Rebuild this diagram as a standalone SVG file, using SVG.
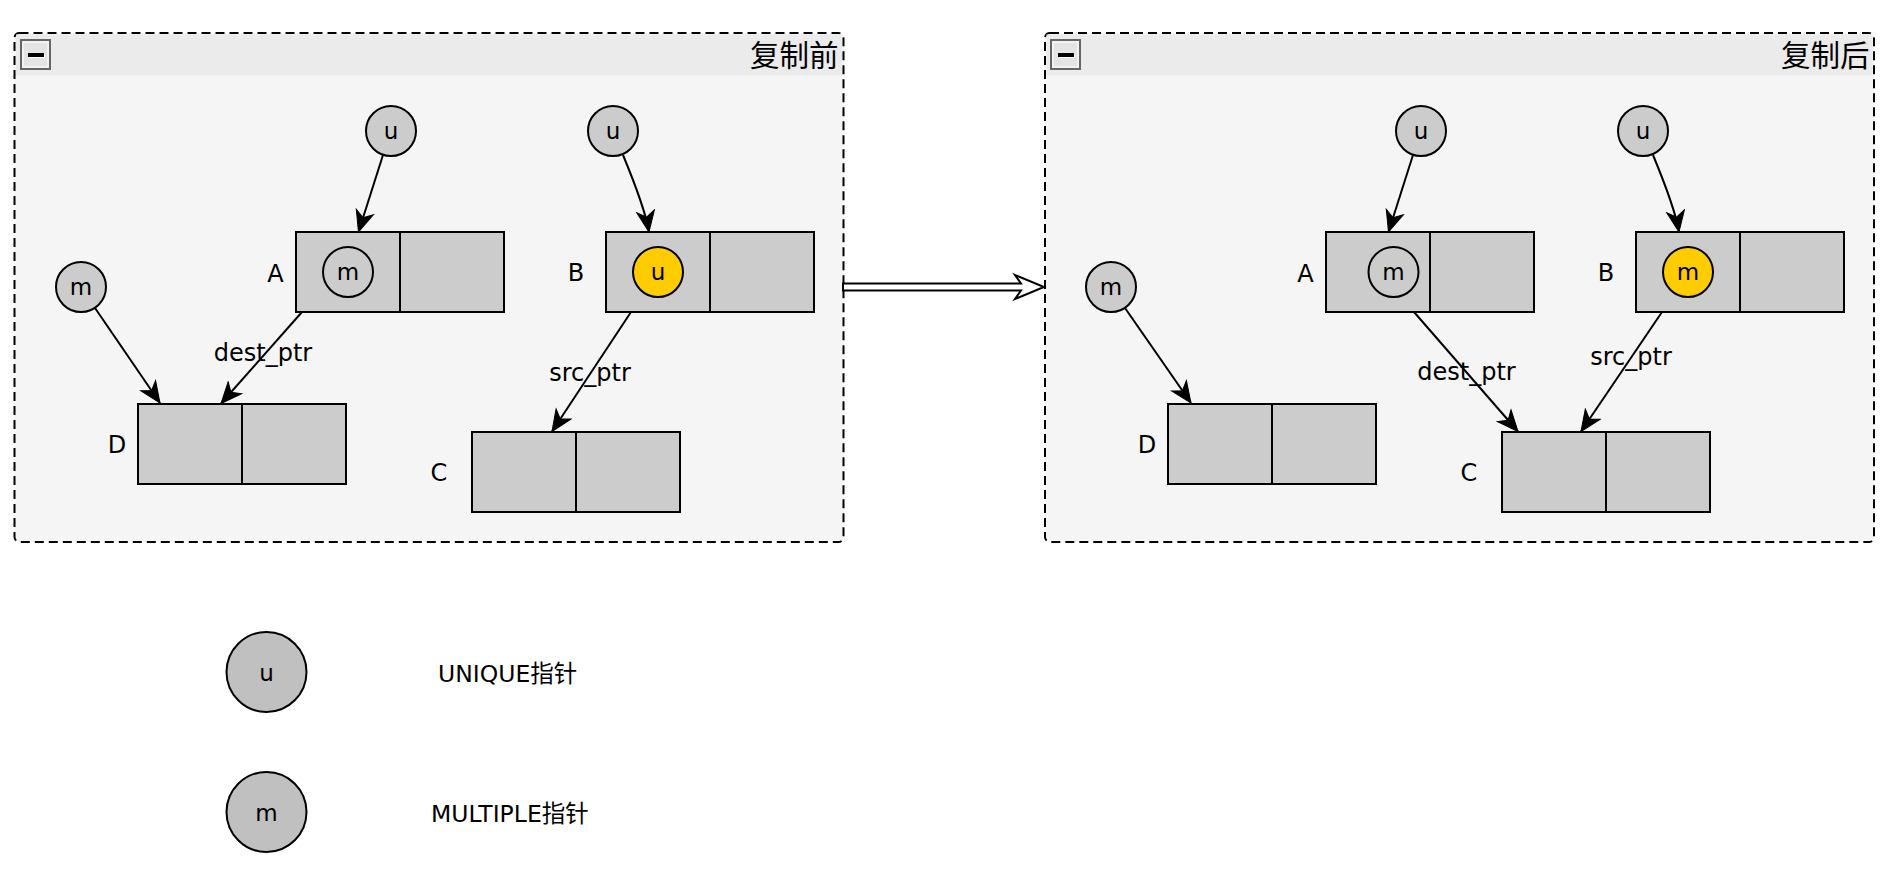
<svg xmlns="http://www.w3.org/2000/svg" width="1892" height="888" viewBox="0 0 1892 888">
<style>
.cont{fill:#F5F5F5;stroke:#000;stroke-width:2;stroke-dasharray:9 5}
.hdr{fill:#EBEBEB}
.cell{fill:#CCCCCC;stroke:#000;stroke-width:2}
.ptr{fill:#CCCCCC;stroke:#000;stroke-width:2}
.ptry{fill:#FFCC00;stroke:#000;stroke-width:2}
.leg{fill:#C0C0C0;stroke:#000;stroke-width:2}
.t{font-family:"DejaVu Sans","Noto Sans CJK SC",sans-serif;fill:#000}
.c{font-size:23px;text-anchor:middle}
.lbl{font-size:24px;text-anchor:middle}
.lg{font-size:23.5px}
.ttl{font-family:"Noto Sans CJK SC",sans-serif;font-size:29.5px;text-anchor:end;fill:#000}
.edge{fill:none;stroke:#000;stroke-width:2}
</style>
<defs>
<marker id="arr" markerUnits="userSpaceOnUse" markerWidth="24" markerHeight="22" viewBox="-22 -10 24 20" refX="0" refY="0" orient="auto">
<path d="M0,0 L-21,-9 L-15,0 L-21,9 Z" fill="#000" stroke="#000" stroke-width="1"/>
</marker>
<g id="minus">
<rect x="0" y="0" width="29" height="29" fill="#E4E4E4" stroke="#666" stroke-width="2"/>
<rect x="2" y="2" width="25" height="25" fill="none" stroke="#fff" stroke-width="1"/>
<rect x="8" y="14" width="16" height="4" fill="#fff"/>
<rect x="7" y="13" width="16" height="4" fill="#000"/>
</g>
</defs>

<g id="container-before">
<rect class="cont" x="14.5" y="33" width="829" height="509" rx="5"/>
<path class="hdr" d="M16,34.5 H842 V75.5 H16 Z"/>
<use href="#minus" x="21" y="40"/>
<text class="ttl" x="838.5" y="66">复制前</text>
</g>

<g id="container-after">
<rect class="cont" x="1045" y="33" width="829" height="509" rx="5"/>
<path class="hdr" d="M1046.5,34.5 H1872.5 V75.5 H1046.5 Z"/>
<use href="#minus" x="1051" y="40"/>
<text class="ttl" x="1869.5" y="66">复制后</text>
</g>

<g id="transition-arrow">
<path d="M843,283.5 L1021,283.5 L1015,275 L1044,287 L1015,299 L1021,290.5 L843,290.5 Z" fill="#fff" stroke="#000" stroke-width="2" stroke-linejoin="miter"/>
</g>

<!-- before panel nodes -->
<g id="b-uA"><circle class="ptr" cx="391" cy="131" r="25"/><text class="t c" x="391" y="139">u</text></g>
<g id="b-uB"><circle class="ptr" cx="613" cy="131" r="25"/><text class="t c" x="613" y="139">u</text></g>
<g id="b-mD"><circle class="ptr" cx="81" cy="287" r="25"/><text class="t c" x="81" y="295">m</text></g>
<g id="b-A">
<rect class="cell" x="296" y="232" width="104" height="80"/><rect class="cell" x="400" y="232" width="104" height="80"/>
<circle class="ptr" cx="348" cy="272" r="25"/><text class="t c" x="348" y="280">m</text>
<text class="t lbl" x="275.5" y="281.5">A</text>
</g>
<g id="b-B">
<rect class="cell" x="606" y="232" width="104" height="80"/><rect class="cell" x="710" y="232" width="104" height="80"/>
<circle class="ptry" cx="658" cy="272" r="25"/><text class="t c" x="658" y="280">u</text>
<text class="t lbl" x="576" y="281">B</text>
</g>
<g id="b-D">
<rect class="cell" x="138" y="404" width="104" height="80"/><rect class="cell" x="242" y="404" width="104" height="80"/>
<text class="t lbl" x="117" y="453">D</text>
</g>
<g id="b-C">
<rect class="cell" x="472" y="432" width="104" height="80"/><rect class="cell" x="576" y="432" width="104" height="80"/>
<text class="t lbl" x="439" y="481">C</text>
</g>

<!-- after panel nodes -->
<g id="a-uA"><circle class="ptr" cx="1421" cy="131" r="25"/><text class="t c" x="1421" y="139">u</text></g>
<g id="a-uB"><circle class="ptr" cx="1643" cy="131" r="25"/><text class="t c" x="1643" y="139">u</text></g>
<g id="a-mD"><circle class="ptr" cx="1111" cy="287" r="25"/><text class="t c" x="1111" y="295">m</text></g>
<g id="a-A">
<rect class="cell" x="1326" y="232" width="104" height="80"/><rect class="cell" x="1430" y="232" width="104" height="80"/>
<circle class="ptr" cx="1393.5" cy="272" r="25"/><text class="t c" x="1393.5" y="280">m</text>
<text class="t lbl" x="1305.5" y="281.5">A</text>
</g>
<g id="a-B">
<rect class="cell" x="1636" y="232" width="104" height="80"/><rect class="cell" x="1740" y="232" width="104" height="80"/>
<circle class="ptry" cx="1688" cy="272" r="25"/><text class="t c" x="1688" y="280">m</text>
<text class="t lbl" x="1606" y="281">B</text>
</g>
<g id="a-D">
<rect class="cell" x="1168" y="404" width="104" height="80"/><rect class="cell" x="1272" y="404" width="104" height="80"/>
<text class="t lbl" x="1147" y="453">D</text>
</g>
<g id="a-C">
<rect class="cell" x="1502" y="432" width="104" height="80"/><rect class="cell" x="1606" y="432" width="104" height="80"/>
<text class="t lbl" x="1469" y="481">C</text>
</g>

<g id="connectors">
<line class="edge" x1="383" y1="155" x2="358.5" y2="232" marker-end="url(#arr)"/>
<path class="edge" d="M623,155 Q645,208 649,232" marker-end="url(#arr)"/>
<line class="edge" x1="95" y1="308" x2="160" y2="403" marker-end="url(#arr)"/>
<line class="edge" x1="302" y1="312" x2="221" y2="403.5" marker-end="url(#arr)"/>
<line class="edge" x1="631" y1="312" x2="552" y2="431.5" marker-end="url(#arr)"/>
<text class="t lbl" x="263" y="361">dest_ptr</text>
<text class="t lbl" x="590" y="381">src_ptr</text>

<line class="edge" x1="1413" y1="155" x2="1388.5" y2="232" marker-end="url(#arr)"/>
<path class="edge" d="M1653,155 Q1675,208 1679,232" marker-end="url(#arr)"/>
<line class="edge" x1="1125" y1="308" x2="1191" y2="403" marker-end="url(#arr)"/>
<line class="edge" x1="1414" y1="312" x2="1518" y2="431.5" marker-end="url(#arr)"/>
<line class="edge" x1="1662" y1="312" x2="1581" y2="431.5" marker-end="url(#arr)"/>
<text class="t lbl" x="1466.5" y="380">dest_ptr</text>
<text class="t lbl" x="1631" y="365">src_ptr</text>
</g>

<g id="legend-unique">
<circle class="leg" cx="266.5" cy="672" r="40"/>
<text class="t c" x="266.5" y="681">u</text>
<text class="t lg" x="438" y="681.5">UNIQUE指针</text>
</g>
<g id="legend-multiple">
<circle class="leg" cx="266.5" cy="812" r="40"/>
<text class="t c" x="266.5" y="821">m</text>
<text class="t lg" x="431" y="821.5">MULTIPLE指针</text>
</g>
</svg>
